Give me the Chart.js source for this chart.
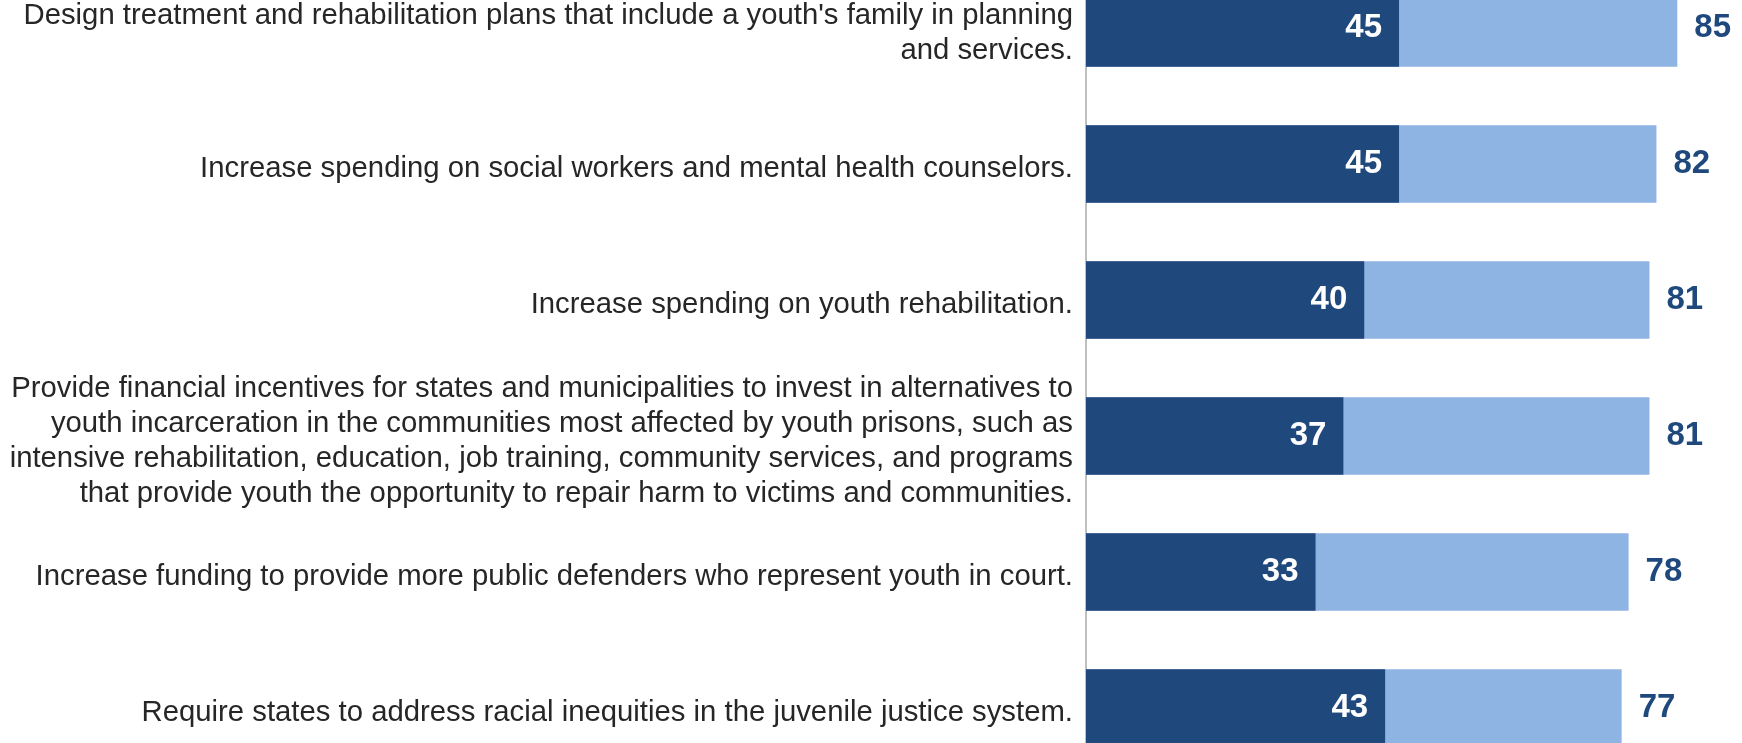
<!DOCTYPE html>
<html>
<head>
<meta charset="utf-8">
<script src="https://cdn.jsdelivr.net/npm/chart.js@4"></script>
<style>
    html, body { margin: 0; padding: 0; background: #fff; overflow: hidden; }
    #wrap { position: absolute; left: 0; top: -40px; width: 1742px; height: 816px; }
</style>
</head>
<body>
<div id="wrap"><canvas id="supportChart"></canvas></div>
<script>
const categories = [
    ["Design treatment and rehabilitation plans that include a youth's family in planning", "and services."],
    "Increase spending on social workers and mental health counselors.",
    "Increase spending on youth rehabilitation.",
    ["Provide financial incentives for states and municipalities to invest in alternatives to",
     "youth incarceration in the communities most affected by youth prisons, such as",
     "intensive rehabilitation, education, job training, community services, and programs",
     "that provide youth the opportunity to repair harm to victims and communities."],
    "Increase funding to provide more public defenders who represent youth in court.",
    "Require states to address racial inequities in the juvenile justice system."
];

const strongSupport = [45, 45, 40, 37, 33, 43];
const totalSupport = [85, 82, 81, 81, 78, 77];

const darkBlue = "#1F497D";
const lightBlue = "#8EB4E3";

// ===== VALUE LABELS =====
const valueLabels = {
    id: "valueLabels",
    afterDatasetsDraw(chart) {
        const ctx = chart.ctx;
        ctx.save();
        ctx.font = "bold 33px 'Liberation Sans', Arial, sans-serif";
        ctx.textBaseline = "middle";

        chart.getDatasetMeta(0).data.forEach((bar, i) => {
            ctx.fillStyle = "#ffffff";
            ctx.textAlign = "right";
            ctx.fillText(strongSupport[i], bar.x - 17, bar.y);
        });

        chart.getDatasetMeta(1).data.forEach((bar, i) => {
            ctx.fillStyle = darkBlue;
            ctx.textAlign = "left";
            ctx.fillText(totalSupport[i], bar.x + 17, bar.y);
        });

        ctx.restore();
    }
};

new Chart(document.getElementById("supportChart"), {
    type: "bar",
    data: {
        labels: categories,
        datasets: [
            { label: "Strongly support", data: strongSupport, backgroundColor: darkBlue, categoryPercentage: 0.57, barPercentage: 1, clip: false },
            { label: "Total support", data: totalSupport, backgroundColor: lightBlue, categoryPercentage: 0.57, barPercentage: 1, clip: false }
        ]
    },
    options: {
        indexAxis: "y",
        responsive: true,
        maintainAspectRatio: false,
        animation: false,
        layout: { padding: 0 },
        plugins: {
            legend: { display: false },
            tooltip: { enabled: false }
        },
        scales: {
            x: {
                display: false,
                min: 0,
                max: 94.3
            },
            y: {
                stacked: true,
                grid: { display: false, drawTicks: false },
                border: { display: true, color: "#BFBFBF", width: 2 },
                ticks: {
                    autoSkip: false,
                    color: "#262626",
                    padding: 13,
                    labelOffset: 5,
                    font: { family: "'Liberation Sans', Arial, sans-serif", size: 29.3, lineHeight: "35px" }
                },
                afterFit(scale) {
                    scale.width = 1086;
                    scale.paddingTop = 0;
                    scale.paddingBottom = 0;
                }
            }
        }
    },
    plugins: [valueLabels]
});
</script>
</body>
</html>
